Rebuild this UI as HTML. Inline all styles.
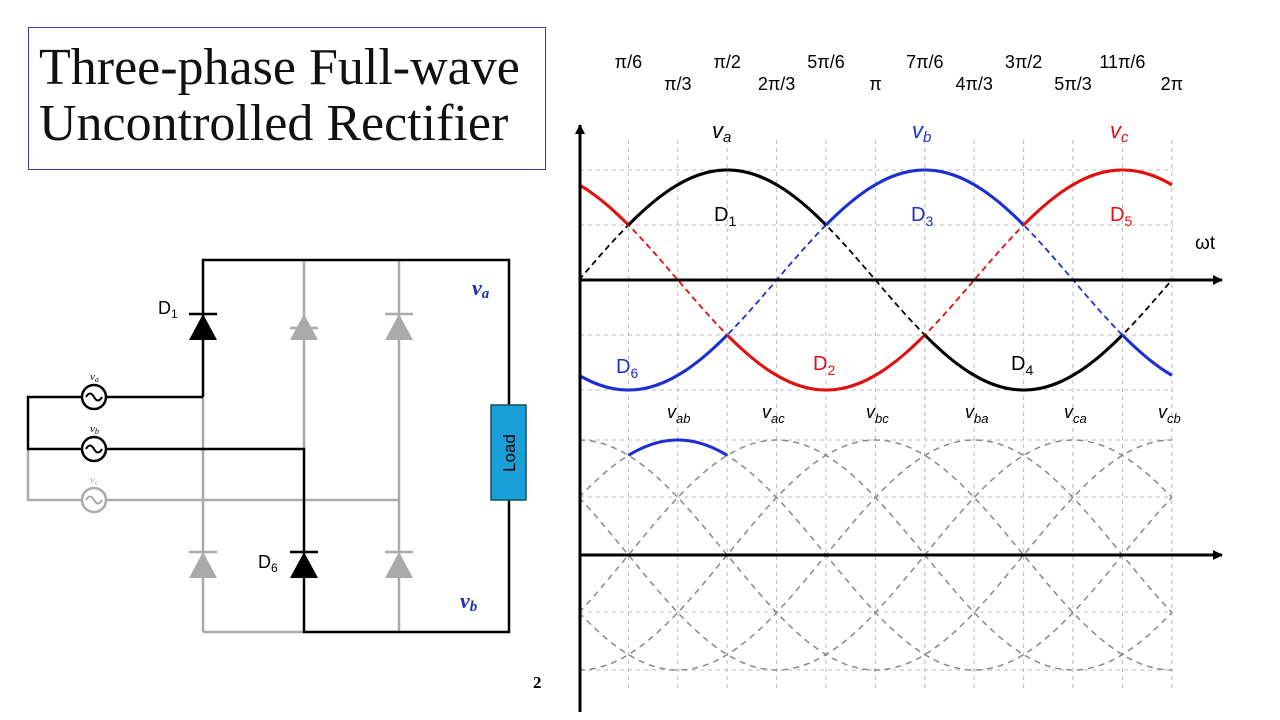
<!DOCTYPE html>
<html><head><meta charset="utf-8"><style>
body{margin:0;background:#fff;width:1280px;height:720px;overflow:hidden;position:relative;font-family:"Liberation Sans",sans-serif}
.t{position:absolute;left:28px;top:27px;width:518px;height:143px;border:1px solid #3a3a8a;font-family:"Liberation Serif",serif;font-size:52px;line-height:56px;padding:12px 0 0 10px;box-sizing:border-box;color:#111;white-space:nowrap}
</style></head><body>
<div class="t">Three-phase Full-wave<br>Uncontrolled Rectifier</div>
<svg width="1280" height="720" style="position:absolute;left:0;top:0" font-family="Liberation Sans, sans-serif">
<defs><marker id="ar" markerWidth="10" markerHeight="10" refX="9" refY="5" orient="auto" markerUnits="userSpaceOnUse"><path d="M0,0 L10,5 L0,10z" fill="#000"/></marker></defs>
<g stroke="#aaa" stroke-width="2.5" fill="none">
<path d="M304,260V330M304,330V449M399,260V632M203,397V632M203,632H304M28,449V500H94M94,500H399"/>
</g>
<g fill="#aaa"><path d="M290,340h28l-14,-26z"/><path d="M290,328h28" stroke="#aaa" stroke-width="2.5"/>
<path d="M385,340h28l-14,-26z"/><path d="M385,314h28" stroke="#aaa" stroke-width="2.5"/>
<path d="M189,578h28l-14,-26z"/><path d="M189,552h28" stroke="#aaa" stroke-width="2.5"/>
<path d="M385,578h28l-14,-26z"/><path d="M385,552h28" stroke="#aaa" stroke-width="2.5"/></g>
<circle cx="94" cy="500" r="12" fill="#fff" stroke="#aaa" stroke-width="2.5"/>
<path d="M86,500q4,-7 8,0t8,0" stroke="#aaa" fill="none" stroke-width="2"/>
<g stroke="#000" stroke-width="2.5" fill="none">
<path d="M203,397V260H509V632H304V449H28V397H203"/>
</g>
<path d="M189,340h28l-14,-26z" fill="#000"/><path d="M189,314h28" stroke="#000" stroke-width="2.5"/>
<path d="M290,578h28l-14,-26z" fill="#000"/><path d="M290,552h28" stroke="#000" stroke-width="2.5"/>
<circle cx="94" cy="397" r="12" fill="#fff" stroke="#000" stroke-width="2.5"/>
<path d="M86,397q4,-7 8,0t8,0" stroke="#000" fill="none" stroke-width="2"/>
<circle cx="94" cy="449" r="12" fill="#fff" stroke="#000" stroke-width="2.5"/>
<path d="M86,449q4,-7 8,0t8,0" stroke="#000" fill="none" stroke-width="2"/>
<rect x="491" y="405" width="35" height="95" fill="#1a9fd8" stroke="#155" stroke-width="1.5"/>
<text transform="translate(515,453) rotate(-90)" text-anchor="middle" font-size="17" fill="#000">Load</text>
<text x="158" y="314" font-size="18">D<tspan font-size="12" dy="4">1</tspan></text>
<text x="258" y="568" font-size="18">D<tspan font-size="12" dy="4">6</tspan></text>
<g font-family="Liberation Serif,serif" font-style="italic" font-size="11"><text x="90" y="380">v<tspan font-size="8" dy="2">a</tspan></text><text x="90" y="432">v<tspan font-size="8" dy="2">b</tspan></text><text x="90" y="483" fill="#aaa">v<tspan font-size="8" dy="2">c</tspan></text></g>
<g font-family="Liberation Serif,serif" font-style="italic" font-weight="bold" font-size="22" fill="#1c2fb0"><text x="472" y="295">v<tspan font-size="15" dy="3">a</tspan></text><text x="460" y="608">v<tspan font-size="15" dy="3">b</tspan></text></g>
<text x="533" y="688" font-family="Liberation Serif,serif" font-weight="bold" font-size="17">2</text>
<g id="plot"></g>
</svg>
<script>
var NS="http://www.w3.org/2000/svg",P=document.getElementById("plot");
function el(t,a,txt){var e=document.createElementNS(NS,t);for(var k in a)e.setAttribute(k,a[k]);if(txt)e.innerHTML=txt;P.appendChild(e);return e}
var X=function(th){return 579+th/(Math.PI/6)*49.4};
for(var i=1;i<=12;i++)el("line",{x1:X(i*Math.PI/6),x2:X(i*Math.PI/6),y1:140,y2:690,stroke:"#bbb","stroke-dasharray":"4,4"});
[170,225,335,390,440,497,612,670].forEach(function(y){el("line",{x1:580,x2:1173,y1:y,y2:y,stroke:"#bbb","stroke-dasharray":"4,4"})});
function path(f,a,b,yc,A){var d="";for(var k=0;k<=200;k++){var t=a+(b-a)*k/200;d+=(k?"L":"M")+X(t).toFixed(1)+","+(yc-A*f(t)).toFixed(1)}return d}
var T=2*Math.PI;
for(var j=0;j<6;j++){(function(j){el("path",{d:path(function(t){return Math.sin(t+Math.PI/6-j*Math.PI/3)},0,T,555,115),fill:"none",stroke:"#888","stroke-width":1.5,"stroke-dasharray":"6,5"})})(j)}
el("path",{d:path(function(t){return Math.sin(t+Math.PI/6)},Math.PI/6,Math.PI/2,555,115),fill:"none",stroke:"#1c2fd0","stroke-width":3});
var ph=[[0,"#000"],[-2*Math.PI/3,"#1c2fd0"],[-4*Math.PI/3,"#e01010"]];
ph.forEach(function(p){el("path",{d:path(function(t){return Math.sin(t+p[0])},0,T,280,110),fill:"none",stroke:p[1],"stroke-width":1.8,"stroke-dasharray":"6,4"})});
for(var s=0;s<24;s++){var a=s*Math.PI/12,b=a+Math.PI/12,m=(a+b)/2;var vals=ph.map(function(p){return Math.sin(m+p[0])});
var mx=0,mn=0;for(var q=1;q<3;q++){if(vals[q]>vals[mx])mx=q;if(vals[q]<vals[mn])mn=q}
[mx,mn].forEach(function(q){var o=ph[q][0];el("path",{d:path(function(t){return Math.sin(t+o)},a,b,280,110),fill:"none",stroke:ph[q][1],"stroke-width":3})})}
el("line",{x1:580,y1:712,x2:580,y2:125,stroke:"#000","stroke-width":3,"marker-end":"url(#ar)"});
el("line",{x1:580,y1:280,x2:1222,y2:280,stroke:"#000","stroke-width":3,"marker-end":"url(#ar)"});
el("line",{x1:580,y1:555,x2:1222,y2:555,stroke:"#000","stroke-width":3,"marker-end":"url(#ar)"});
var up=["π/6","π/2","5π/6","7π/6","3π/2","11π/6"],dn=["π/3","2π/3","π","4π/3","5π/3","2π"];
for(var i=0;i<6;i++){el("text",{x:X((2*i+1)*Math.PI/6),y:68,"text-anchor":"middle","font-size":18},up[i]);el("text",{x:X((2*i+2)*Math.PI/6),y:90,"text-anchor":"middle","font-size":18},dn[i]);}
el("text",{x:1195,y:249,"font-size":19},"ωt");
[["a",712,"#000"],["b",912,"#1c2fd0"],["c",1110,"#e01010"]].forEach(function(v){el("text",{x:v[1],y:138,"font-size":22,fill:v[2],"font-style":"italic"},'v<tspan font-size="15" dy="4">'+v[0]+'</tspan>')});
[["1",714,221,"#000"],["3",911,221,"#1c2fd0"],["5",1110,221,"#e01010"],["6",616,373,"#1c2fd0"],["2",813,370,"#e01010"],["4",1011,370,"#000"]].forEach(function(d){el("text",{x:d[1],y:d[2],"font-size":20,fill:d[3]},'D<tspan font-size="14" dy="5">'+d[0]+'</tspan>')});
[["ab",667],["ac",762],["bc",866],["ba",965],["ca",1064],["cb",1158]].forEach(function(v){el("text",{x:v[1],y:418,"font-size":18,"font-style":"italic"},'v<tspan font-size="13" dy="5">'+v[0]+'</tspan>')});
</script>
</body></html>
